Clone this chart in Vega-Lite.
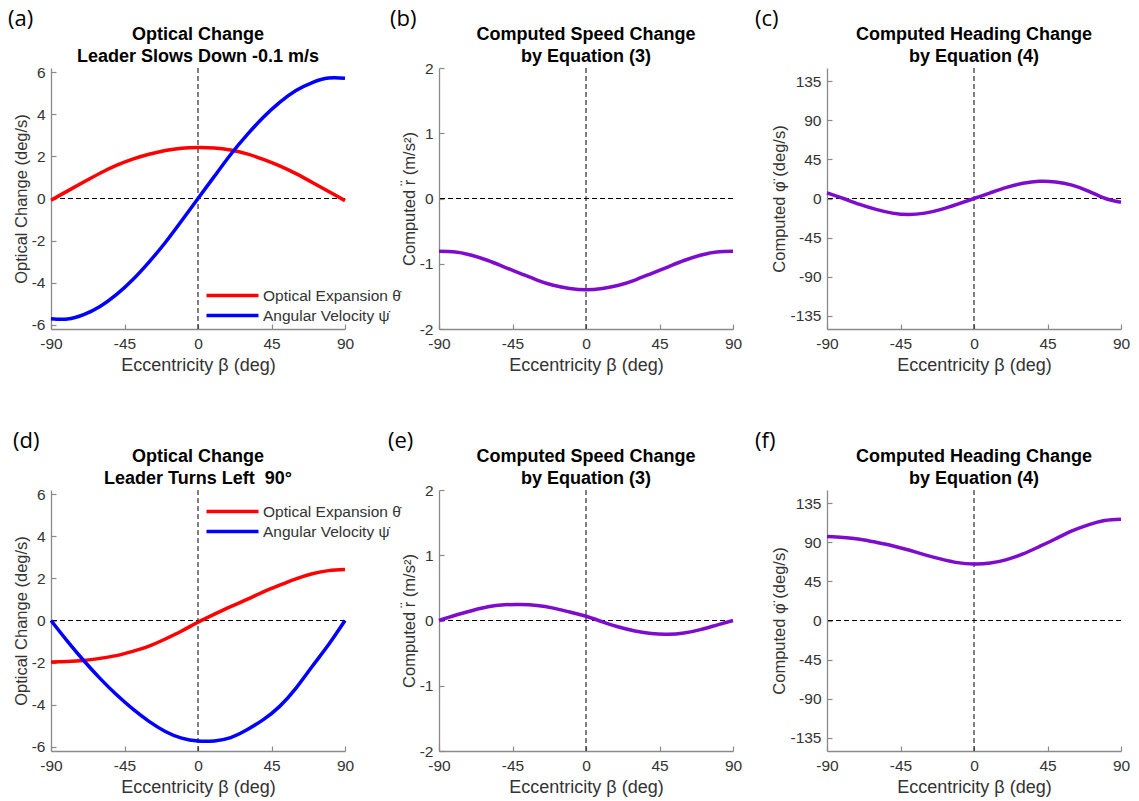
{
  "$schema": "https://vega.github.io/schema/vega-lite/v6.json",
  "padding": {"left": 8, "top": 8, "right": 5, "bottom": 5},
  "background": "white",
  "config": {
    "view": {"stroke": null},
    "font": "Liberation Sans",
    "axis": {
      "grid": false,
      "domainColor": "#8a8a8a",
      "domainWidth": 1.3,
      "tickColor": "#8a8a8a",
      "tickWidth": 1.2,
      "tickSize": -5,
      "labelFont": "Liberation Sans",
      "labelFontSize": 15.5,
      "labelColor": "#333333",
      "labelExpr": "datum.value < 0 ? '-' + abs(datum.value) : '' + datum.value",
      "titleFont": "Liberation Sans",
      "titleFontWeight": "normal",
      "titleColor": "#333333"
    },
    "axisX": {"labelPadding": 12, "titlePadding": 5, "labelFlush": false, "titleFontSize": 18},
    "axisY": {"labelPadding": 11, "titlePadding": 2, "titleFontSize": 16.5},
    "title": {"font": "Liberation Sans", "fontSize": 18, "fontWeight": "bold", "color": "#000000", "lineHeight": 22, "offset": -58},
    "legend": {
      "labelFont": "Liberation Sans",
      "labelFontSize": 15.5,
      "labelColor": "#333333",
      "symbolType": "M-4,0L4,0",
      "symbolSize": 169,
      "symbolStrokeWidth": 3.5,
      "rowPadding": 3,
      "labelOffset": 22,
      "title": null
    }
  },
  "datasets": {
    "a": [
      {"beta": -90, "value": -0.08, "series": "Optical Expansion θ̇"},
      {"beta": -80, "value": 0.35, "series": "Optical Expansion θ̇"},
      {"beta": -70, "value": 0.78, "series": "Optical Expansion θ̇"},
      {"beta": -60, "value": 1.2, "series": "Optical Expansion θ̇"},
      {"beta": -50, "value": 1.57, "series": "Optical Expansion θ̇"},
      {"beta": -40, "value": 1.87, "series": "Optical Expansion θ̇"},
      {"beta": -30, "value": 2.1, "series": "Optical Expansion θ̇"},
      {"beta": -20, "value": 2.28, "series": "Optical Expansion θ̇"},
      {"beta": -10, "value": 2.39, "series": "Optical Expansion θ̇"},
      {"beta": 0, "value": 2.42, "series": "Optical Expansion θ̇"},
      {"beta": 10, "value": 2.4, "series": "Optical Expansion θ̇"},
      {"beta": 20, "value": 2.3, "series": "Optical Expansion θ̇"},
      {"beta": 30, "value": 2.12, "series": "Optical Expansion θ̇"},
      {"beta": 40, "value": 1.86, "series": "Optical Expansion θ̇"},
      {"beta": 50, "value": 1.55, "series": "Optical Expansion θ̇"},
      {"beta": 60, "value": 1.18, "series": "Optical Expansion θ̇"},
      {"beta": 70, "value": 0.76, "series": "Optical Expansion θ̇"},
      {"beta": 80, "value": 0.33, "series": "Optical Expansion θ̇"},
      {"beta": 90, "value": -0.1, "series": "Optical Expansion θ̇"},
      {"beta": -90, "value": -5.71, "series": "Angular Velocity ψ̇"},
      {"beta": -80, "value": -5.73, "series": "Angular Velocity ψ̇"},
      {"beta": -70, "value": -5.52, "series": "Angular Velocity ψ̇"},
      {"beta": -60, "value": -5.13, "series": "Angular Velocity ψ̇"},
      {"beta": -50, "value": -4.57, "series": "Angular Velocity ψ̇"},
      {"beta": -40, "value": -3.86, "series": "Angular Velocity ψ̇"},
      {"beta": -30, "value": -3.02, "series": "Angular Velocity ψ̇"},
      {"beta": -20, "value": -2.09, "series": "Angular Velocity ψ̇"},
      {"beta": -10, "value": -1.06, "series": "Angular Velocity ψ̇"},
      {"beta": 0, "value": 0, "series": "Angular Velocity ψ̇"},
      {"beta": 10, "value": 1.05, "series": "Angular Velocity ψ̇"},
      {"beta": 20, "value": 2.09, "series": "Angular Velocity ψ̇"},
      {"beta": 30, "value": 3.02, "series": "Angular Velocity ψ̇"},
      {"beta": 40, "value": 3.86, "series": "Angular Velocity ψ̇"},
      {"beta": 50, "value": 4.57, "series": "Angular Velocity ψ̇"},
      {"beta": 60, "value": 5.13, "series": "Angular Velocity ψ̇"},
      {"beta": 70, "value": 5.51, "series": "Angular Velocity ψ̇"},
      {"beta": 80, "value": 5.72, "series": "Angular Velocity ψ̇"},
      {"beta": 90, "value": 5.71, "series": "Angular Velocity ψ̇"}
    ],
    "b": [
      {"beta": -90, "value": -0.81}, {"beta": -80, "value": -0.82}, {"beta": -70, "value": -0.87},
      {"beta": -60, "value": -0.95}, {"beta": -50, "value": -1.05}, {"beta": -40, "value": -1.15},
      {"beta": -30, "value": -1.25}, {"beta": -20, "value": -1.33}, {"beta": -10, "value": -1.38},
      {"beta": 0, "value": -1.4}, {"beta": 10, "value": -1.38}, {"beta": 20, "value": -1.33},
      {"beta": 30, "value": -1.25}, {"beta": 40, "value": -1.15}, {"beta": 50, "value": -1.05},
      {"beta": 60, "value": -0.95}, {"beta": 70, "value": -0.87}, {"beta": 80, "value": -0.82},
      {"beta": 90, "value": -0.81}
    ],
    "c": [
      {"beta": -90, "value": 6.5}, {"beta": -80, "value": 0}, {"beta": -70, "value": -6.8},
      {"beta": -60, "value": -12.5}, {"beta": -50, "value": -16.8}, {"beta": -40, "value": -18.5},
      {"beta": -30, "value": -16.8}, {"beta": -20, "value": -12.5}, {"beta": -10, "value": -6.5},
      {"beta": 0, "value": 0}, {"beta": 10, "value": 6.5}, {"beta": 20, "value": 12.8},
      {"beta": 30, "value": 17.5}, {"beta": 40, "value": 19.8}, {"beta": 50, "value": 19},
      {"beta": 60, "value": 15.3}, {"beta": 70, "value": 8.5}, {"beta": 80, "value": 0.3},
      {"beta": 90, "value": -4.3}
    ],
    "d": [
      {"beta": -90, "value": -1.97, "series": "Optical Expansion θ̇"},
      {"beta": -80, "value": -1.95, "series": "Optical Expansion θ̇"},
      {"beta": -70, "value": -1.9, "series": "Optical Expansion θ̇"},
      {"beta": -60, "value": -1.8, "series": "Optical Expansion θ̇"},
      {"beta": -50, "value": -1.67, "series": "Optical Expansion θ̇"},
      {"beta": -40, "value": -1.47, "series": "Optical Expansion θ̇"},
      {"beta": -30, "value": -1.22, "series": "Optical Expansion θ̇"},
      {"beta": -20, "value": -0.88, "series": "Optical Expansion θ̇"},
      {"beta": -10, "value": -0.5, "series": "Optical Expansion θ̇"},
      {"beta": 0, "value": -0.08, "series": "Optical Expansion θ̇"},
      {"beta": 10, "value": 0.3, "series": "Optical Expansion θ̇"},
      {"beta": 20, "value": 0.66, "series": "Optical Expansion θ̇"},
      {"beta": 30, "value": 1.0, "series": "Optical Expansion θ̇"},
      {"beta": 40, "value": 1.36, "series": "Optical Expansion θ̇"},
      {"beta": 50, "value": 1.68, "series": "Optical Expansion θ̇"},
      {"beta": 60, "value": 1.98, "series": "Optical Expansion θ̇"},
      {"beta": 70, "value": 2.22, "series": "Optical Expansion θ̇"},
      {"beta": 80, "value": 2.37, "series": "Optical Expansion θ̇"},
      {"beta": 90, "value": 2.42, "series": "Optical Expansion θ̇"},
      {"beta": -90, "value": 0, "series": "Angular Velocity ψ̇"},
      {"beta": -80, "value": -0.98, "series": "Angular Velocity ψ̇"},
      {"beta": -70, "value": -1.9, "series": "Angular Velocity ψ̇"},
      {"beta": -60, "value": -2.75, "series": "Angular Velocity ψ̇"},
      {"beta": -50, "value": -3.52, "series": "Angular Velocity ψ̇"},
      {"beta": -40, "value": -4.2, "series": "Angular Velocity ψ̇"},
      {"beta": -30, "value": -4.79, "series": "Angular Velocity ψ̇"},
      {"beta": -20, "value": -5.27, "series": "Angular Velocity ψ̇"},
      {"beta": -10, "value": -5.59, "series": "Angular Velocity ψ̇"},
      {"beta": 0, "value": -5.73, "series": "Angular Velocity ψ̇"},
      {"beta": 10, "value": -5.72, "series": "Angular Velocity ψ̇"},
      {"beta": 20, "value": -5.56, "series": "Angular Velocity ψ̇"},
      {"beta": 30, "value": -5.19, "series": "Angular Velocity ψ̇"},
      {"beta": 40, "value": -4.71, "series": "Angular Velocity ψ̇"},
      {"beta": 50, "value": -4.08, "series": "Angular Velocity ψ̇"},
      {"beta": 60, "value": -3.21, "series": "Angular Velocity ψ̇"},
      {"beta": 70, "value": -2.17, "series": "Angular Velocity ψ̇"},
      {"beta": 80, "value": -1.14, "series": "Angular Velocity ψ̇"},
      {"beta": 90, "value": 0, "series": "Angular Velocity ψ̇"}
    ],
    "e": [
      {"beta": -90, "value": 0}, {"beta": -80, "value": 0.08}, {"beta": -70, "value": 0.15},
      {"beta": -60, "value": 0.21}, {"beta": -50, "value": 0.24}, {"beta": -40, "value": 0.245},
      {"beta": -30, "value": 0.23}, {"beta": -20, "value": 0.19}, {"beta": -10, "value": 0.13},
      {"beta": 0, "value": 0.065}, {"beta": 10, "value": -0.02}, {"beta": 20, "value": -0.1},
      {"beta": 30, "value": -0.16}, {"beta": 40, "value": -0.2}, {"beta": 50, "value": -0.21},
      {"beta": 60, "value": -0.19}, {"beta": 70, "value": -0.14}, {"beta": 80, "value": -0.07},
      {"beta": 90, "value": 0}
    ],
    "f": [
      {"beta": -90, "value": 96.5}, {"beta": -80, "value": 95.5}, {"beta": -70, "value": 93.5},
      {"beta": -60, "value": 90}, {"beta": -50, "value": 86}, {"beta": -40, "value": 81},
      {"beta": -30, "value": 75.5}, {"beta": -20, "value": 70.5}, {"beta": -10, "value": 66.5},
      {"beta": 0, "value": 65}, {"beta": 10, "value": 66}, {"beta": 20, "value": 70},
      {"beta": 30, "value": 76.5}, {"beta": 40, "value": 85}, {"beta": 50, "value": 94},
      {"beta": 60, "value": 103}, {"beta": 70, "value": 110}, {"beta": 80, "value": 115},
      {"beta": 90, "value": 116.5}
    ]
  },
  "resolve": {"scale": {"color": "independent"}, "legend": {"color": "independent"}},
  "bounds": "flush",
  "columns": 3,
  "spacing": {"row": 161, "column": 94},
  "concat": [
    {
      "title": {"text": ["Optical Change", "Leader Slows Down -0.1 m/s"]},
      "width": 294, "height": 261,
      "layer": [
        {"data": {"values": [{}]}, "mark": {"type": "rule", "color": "#000000", "strokeWidth": 1, "strokeDash": [5, 3]}, "encoding": {"x": {"datum": 0, "type": "quantitative"}}},
        {"data": {"values": [{}]}, "mark": {"type": "rule", "color": "#000000", "strokeWidth": 1, "strokeDash": [5, 3]}, "encoding": {"y": {"datum": 0, "type": "quantitative"}}},
        {"data": {"values": [{"label": "(a)"}]}, "mark": {"type": "text", "align": "left", "baseline": "alphabetic", "font": "Open Sans", "fontSize": 22, "color": "#000000", "dx": -43, "dy": -42, "clip": false}, "encoding": {"x": {"datum": -90, "type": "quantitative"}, "y": {"datum": 6.2, "type": "quantitative"}, "text": {"field": "label"}}},
        {
          "data": {"name": "a"},
          "mark": {"type": "line", "strokeWidth": 3.5, "interpolate": "natural"},
          "encoding": {
            "x": {"field": "beta", "type": "quantitative", "scale": {"domain": [-90, 90], "nice": false}, "axis": {"values": [-90, -45, 0, 45, 90], "title": "Eccentricity β (deg)"}},
            "y": {"field": "value", "type": "quantitative", "scale": {"domain": [-6.2, 6.2], "nice": false}, "axis": {"values": [-6, -4, -2, 0, 2, 4, 6], "title": "Optical Change (deg/s)"}},
            "color": {"field": "series", "type": "nominal", "sort": null, "scale": {"domain": ["Optical Expansion θ̇", "Angular Velocity ψ̇"], "range": ["#ff0000", "#0000ff"]}, "legend": {"orient": "none", "legendX": 173, "legendY": 219}}
          }
        }
      ]
    },
    {
      "title": {"text": ["Computed Speed Change", "by Equation (3)"]},
      "width": 294, "height": 261,
      "layer": [
        {"data": {"values": [{}]}, "mark": {"type": "rule", "color": "#000000", "strokeWidth": 1, "strokeDash": [5, 3]}, "encoding": {"x": {"datum": 0, "type": "quantitative"}}},
        {"data": {"values": [{}]}, "mark": {"type": "rule", "color": "#000000", "strokeWidth": 1, "strokeDash": [5, 3]}, "encoding": {"y": {"datum": 0, "type": "quantitative"}}},
        {"data": {"values": [{"label": "(b)"}]}, "mark": {"type": "text", "align": "left", "baseline": "alphabetic", "font": "Open Sans", "fontSize": 22, "color": "#000000", "dx": -49, "dy": -42, "clip": false}, "encoding": {"x": {"datum": -90, "type": "quantitative"}, "y": {"datum": 2, "type": "quantitative"}, "text": {"field": "label"}}},
        {
          "data": {"name": "b"},
          "mark": {"type": "line", "strokeWidth": 3.5, "interpolate": "natural", "color": "#7e0ccd"},
          "encoding": {
            "x": {"field": "beta", "type": "quantitative", "scale": {"domain": [-90, 90], "nice": false}, "axis": {"values": [-90, -45, 0, 45, 90], "title": "Eccentricity β (deg)"}},
            "y": {"field": "value", "type": "quantitative", "scale": {"domain": [-2, 2], "nice": false}, "axis": {"values": [-2, -1, 0, 1, 2], "title": "Computed r̈ (m/s²)"}}
          }
        }
      ]
    },
    {
      "title": {"text": ["Computed Heading Change", "by Equation (4)"]},
      "width": 294, "height": 261,
      "layer": [
        {"data": {"values": [{}]}, "mark": {"type": "rule", "color": "#000000", "strokeWidth": 1, "strokeDash": [5, 3]}, "encoding": {"x": {"datum": 0, "type": "quantitative"}}},
        {"data": {"values": [{}]}, "mark": {"type": "rule", "color": "#000000", "strokeWidth": 1, "strokeDash": [5, 3]}, "encoding": {"y": {"datum": 0, "type": "quantitative"}}},
        {"data": {"values": [{"label": "(c)"}]}, "mark": {"type": "text", "align": "left", "baseline": "alphabetic", "font": "Open Sans", "fontSize": 22, "color": "#000000", "dx": -72, "dy": -42, "clip": false}, "encoding": {"x": {"datum": -90, "type": "quantitative"}, "y": {"datum": 150, "type": "quantitative"}, "text": {"field": "label"}}},
        {
          "data": {"name": "c"},
          "mark": {"type": "line", "strokeWidth": 3.5, "interpolate": "natural", "color": "#7e0ccd"},
          "encoding": {
            "x": {"field": "beta", "type": "quantitative", "scale": {"domain": [-90, 90], "nice": false}, "axis": {"values": [-90, -45, 0, 45, 90], "title": "Eccentricity β (deg)"}},
            "y": {"field": "value", "type": "quantitative", "scale": {"domain": [-150, 150], "nice": false}, "axis": {"values": [-135, -90, -45, 0, 45, 90, 135], "title": "Computed φ̈ (deg/s)"}}
          }
        }
      ]
    },
    {
      "title": {"text": ["Optical Change", "Leader Turns Left\u00a0 90°"]},
      "width": 294, "height": 261,
      "layer": [
        {"data": {"values": [{}]}, "mark": {"type": "rule", "color": "#000000", "strokeWidth": 1, "strokeDash": [5, 3]}, "encoding": {"x": {"datum": 0, "type": "quantitative"}}},
        {"data": {"values": [{}]}, "mark": {"type": "rule", "color": "#000000", "strokeWidth": 1, "strokeDash": [5, 3]}, "encoding": {"y": {"datum": 0, "type": "quantitative"}}},
        {"data": {"values": [{"label": "(d)"}]}, "mark": {"type": "text", "align": "left", "baseline": "alphabetic", "font": "Open Sans", "fontSize": 22, "color": "#000000", "dx": -38, "dy": -42, "clip": false}, "encoding": {"x": {"datum": -90, "type": "quantitative"}, "y": {"datum": 6.2, "type": "quantitative"}, "text": {"field": "label"}}},
        {
          "data": {"name": "d"},
          "mark": {"type": "line", "strokeWidth": 3.5, "interpolate": "natural"},
          "encoding": {
            "x": {"field": "beta", "type": "quantitative", "scale": {"domain": [-90, 90], "nice": false}, "axis": {"values": [-90, -45, 0, 45, 90], "title": "Eccentricity β (deg)"}},
            "y": {"field": "value", "type": "quantitative", "scale": {"domain": [-6.2, 6.2], "nice": false}, "axis": {"values": [-6, -4, -2, 0, 2, 4, 6], "title": "Optical Change (deg/s)"}},
            "color": {"field": "series", "type": "nominal", "sort": null, "scale": {"domain": ["Optical Expansion θ̇", "Angular Velocity ψ̇"], "range": ["#ff0000", "#0000ff"]}, "legend": {"orient": "none", "legendX": 173, "legendY": 13}}
          }
        }
      ]
    },
    {
      "title": {"text": ["Computed Speed Change", "by Equation (3)"]},
      "width": 294, "height": 261,
      "layer": [
        {"data": {"values": [{}]}, "mark": {"type": "rule", "color": "#000000", "strokeWidth": 1, "strokeDash": [5, 3]}, "encoding": {"x": {"datum": 0, "type": "quantitative"}}},
        {"data": {"values": [{}]}, "mark": {"type": "rule", "color": "#000000", "strokeWidth": 1, "strokeDash": [5, 3]}, "encoding": {"y": {"datum": 0, "type": "quantitative"}}},
        {"data": {"values": [{"label": "(e)"}]}, "mark": {"type": "text", "align": "left", "baseline": "alphabetic", "font": "Open Sans", "fontSize": 22, "color": "#000000", "dx": -51, "dy": -42, "clip": false}, "encoding": {"x": {"datum": -90, "type": "quantitative"}, "y": {"datum": 2, "type": "quantitative"}, "text": {"field": "label"}}},
        {
          "data": {"name": "e"},
          "mark": {"type": "line", "strokeWidth": 3.5, "interpolate": "natural", "color": "#7e0ccd"},
          "encoding": {
            "x": {"field": "beta", "type": "quantitative", "scale": {"domain": [-90, 90], "nice": false}, "axis": {"values": [-90, -45, 0, 45, 90], "title": "Eccentricity β (deg)"}},
            "y": {"field": "value", "type": "quantitative", "scale": {"domain": [-2, 2], "nice": false}, "axis": {"values": [-2, -1, 0, 1, 2], "title": "Computed r̈ (m/s²)"}}
          }
        }
      ]
    },
    {
      "title": {"text": ["Computed Heading Change", "by Equation (4)"]},
      "width": 294, "height": 261,
      "layer": [
        {"data": {"values": [{}]}, "mark": {"type": "rule", "color": "#000000", "strokeWidth": 1, "strokeDash": [5, 3]}, "encoding": {"x": {"datum": 0, "type": "quantitative"}}},
        {"data": {"values": [{}]}, "mark": {"type": "rule", "color": "#000000", "strokeWidth": 1, "strokeDash": [5, 3]}, "encoding": {"y": {"datum": 0, "type": "quantitative"}}},
        {"data": {"values": [{"label": "(f)"}]}, "mark": {"type": "text", "align": "left", "baseline": "alphabetic", "font": "Open Sans", "fontSize": 22, "color": "#000000", "dx": -72, "dy": -42, "clip": false}, "encoding": {"x": {"datum": -90, "type": "quantitative"}, "y": {"datum": 150, "type": "quantitative"}, "text": {"field": "label"}}},
        {
          "data": {"name": "f"},
          "mark": {"type": "line", "strokeWidth": 3.5, "interpolate": "natural", "color": "#7e0ccd"},
          "encoding": {
            "x": {"field": "beta", "type": "quantitative", "scale": {"domain": [-90, 90], "nice": false}, "axis": {"values": [-90, -45, 0, 45, 90], "title": "Eccentricity β (deg)"}},
            "y": {"field": "value", "type": "quantitative", "scale": {"domain": [-150, 150], "nice": false}, "axis": {"values": [-135, -90, -45, 0, 45, 90, 135], "title": "Computed φ̈ (deg/s)"}}
          }
        }
      ]
    }
  ]
}
